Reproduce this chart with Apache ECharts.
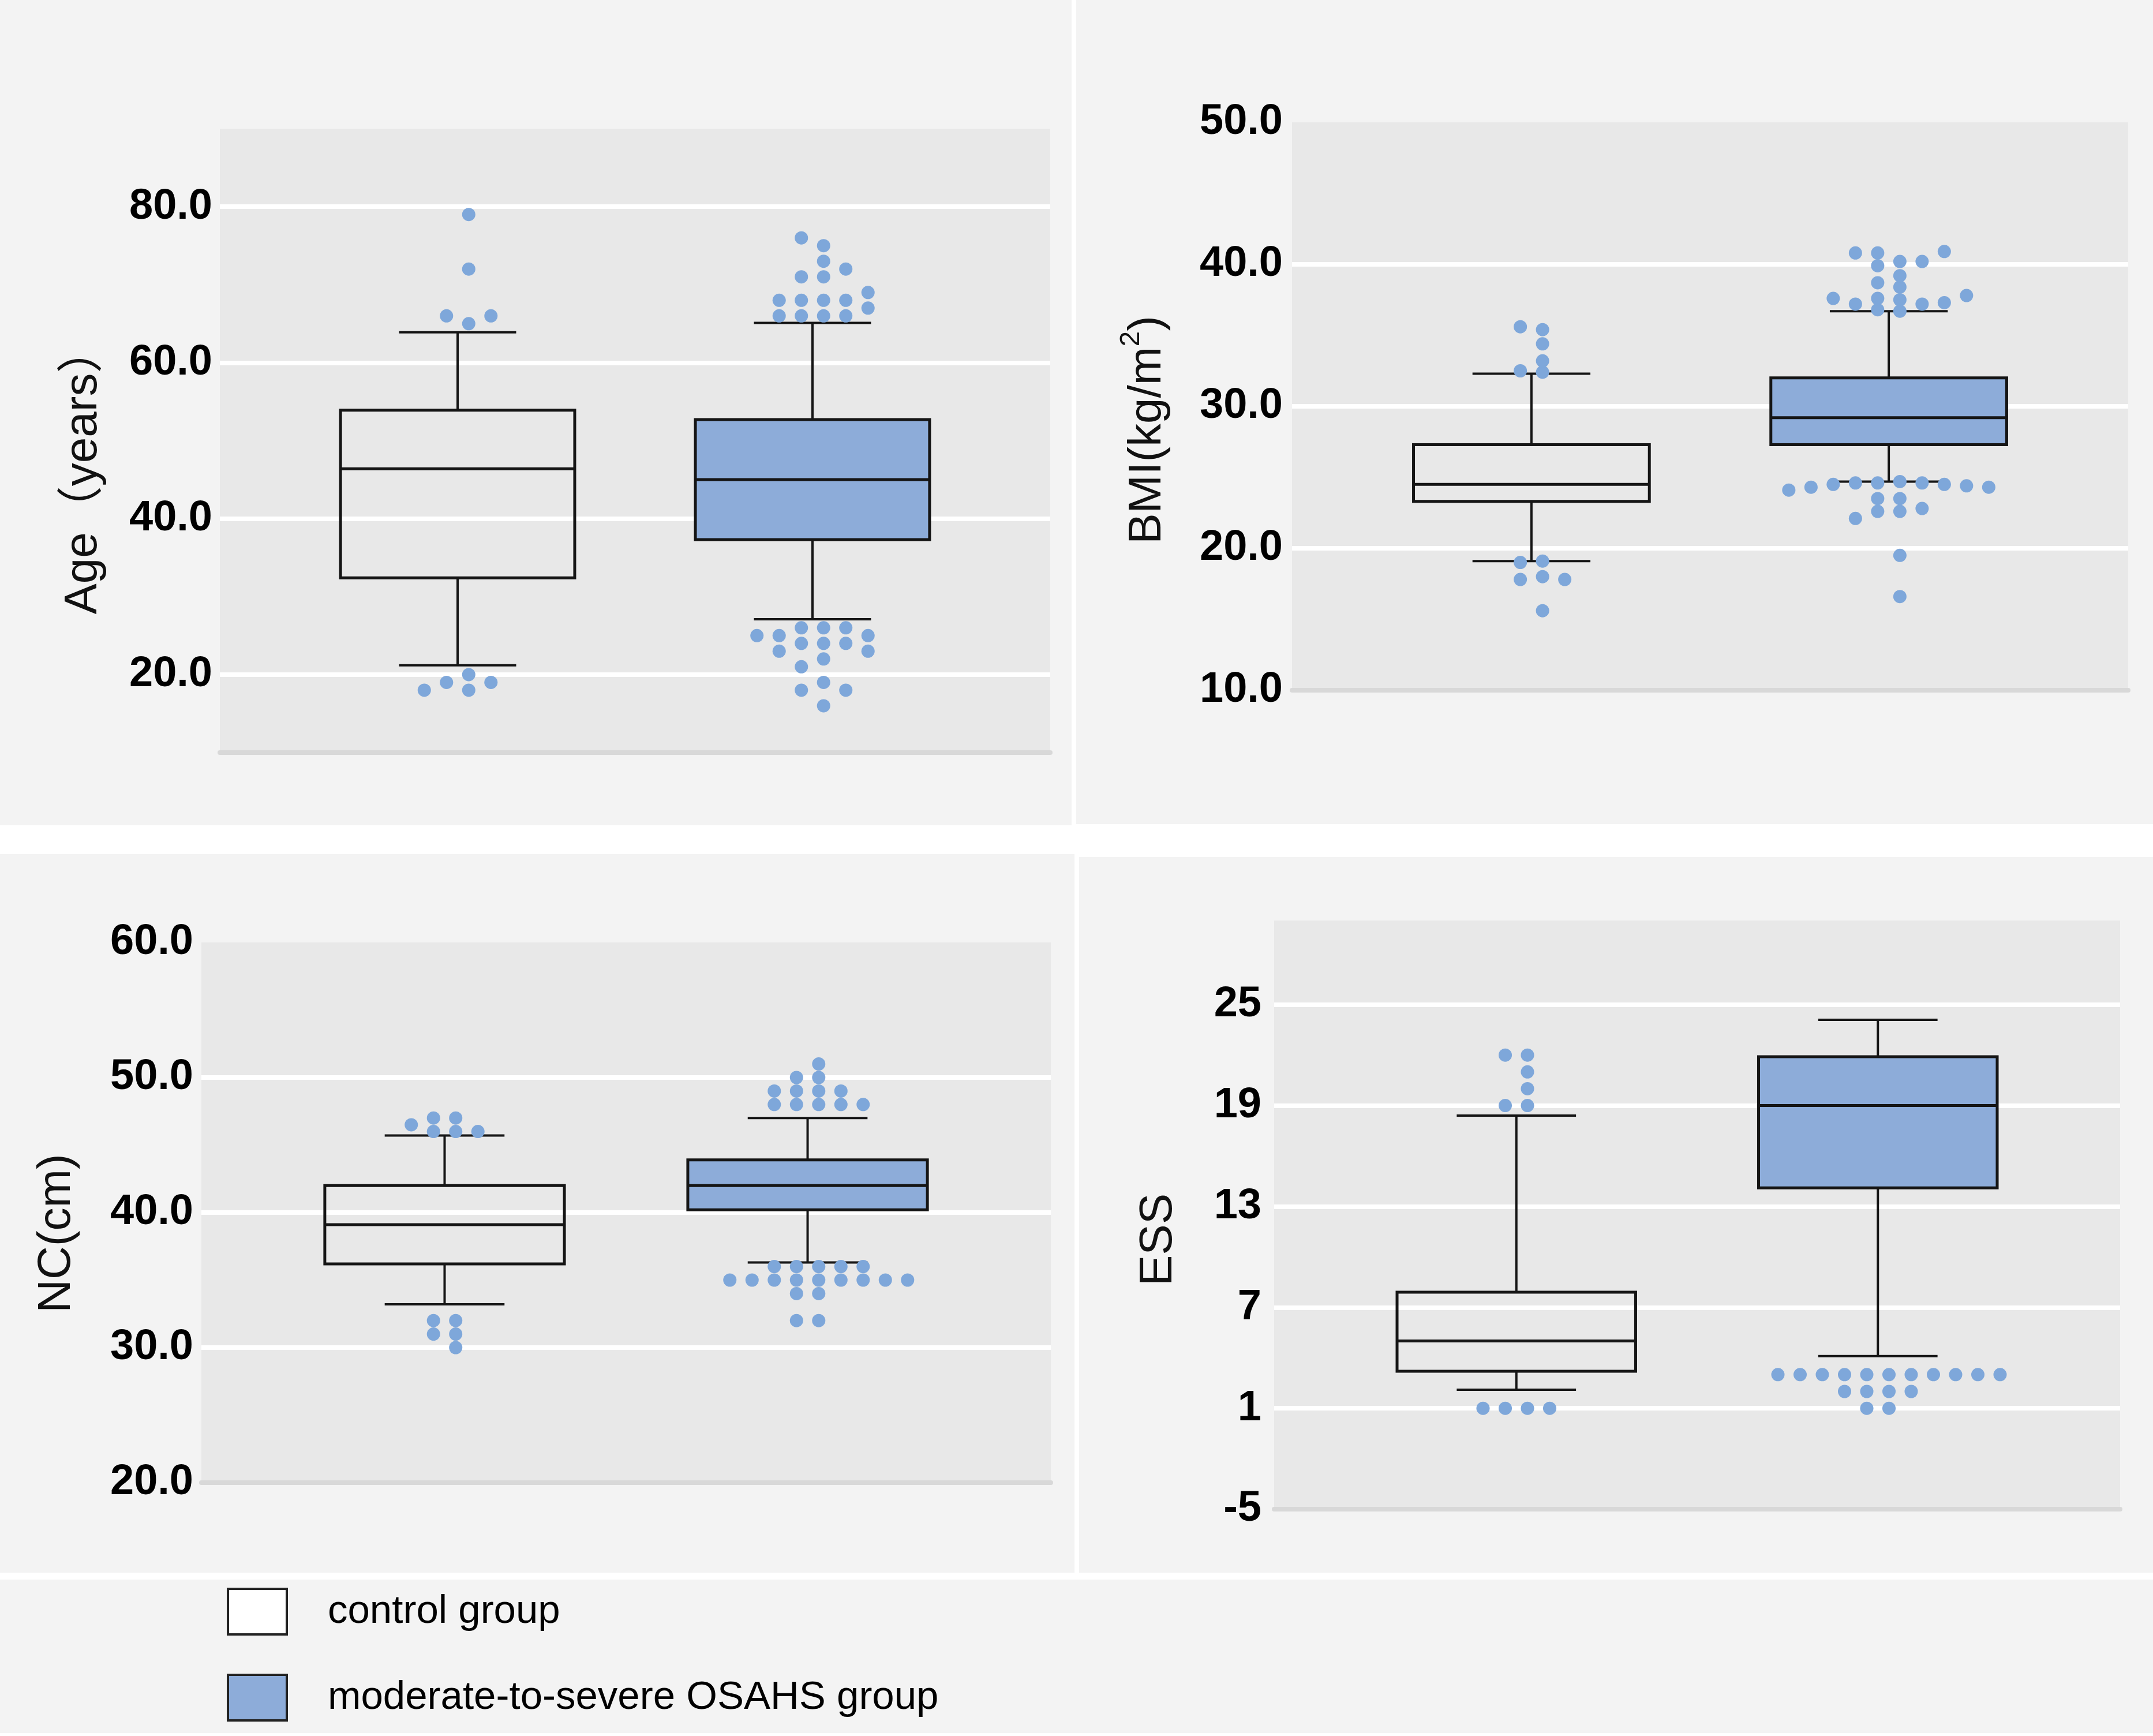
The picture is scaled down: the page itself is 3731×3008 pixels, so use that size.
<!DOCTYPE html>
<html><head><meta charset="utf-8">
<script src="https://cdn.jsdelivr.net/npm/echarts@6/dist/echarts.min.js"></script>
<style>html,body{margin:0;padding:0;background:#fff}#c{width:3731px;height:3008px}</style>
</head><body><div id="c"></div>
<script>
// ---------------- data ----------------
const groupNames = ['control group', 'moderate-to-severe OSAHS group'];
const axisTitles = ['Age（years）', '{n|BMI(kg/m}{s|2}{n|)}', 'NC(cm)', 'ESS'];

// box statistics: [lower whisker, Q1, median, Q3, upper whisker]
const ageControlBox = [21.2, 32.4, 46.4, 53.9, 63.9];
const ageOsahsBox   = [27.1, 37.3, 45.0, 52.7, 65.1];
const bmiControlBox = [19.1, 23.3, 24.5, 27.3, 32.3];
const bmiOsahsBox   = [24.7, 27.3, 29.2, 32.0, 36.7];
const ncControlBox  = [33.2, 36.2, 39.1, 42.0, 45.7];
const ncOsahsBox    = [36.3, 40.2, 42.0, 43.9, 47.0];
const essControlBox = [2.1, 3.2, 5.0, 7.9, 18.4];
const essOsahsBox   = [4.1, 14.1, 19.0, 21.9, 24.1];

// outliers
const ageControlOutliers = [65, 66, 66, 72, 79, 20, 19, 19, 18, 18];
const ageOsahsOutliers = [66, 66, 66, 66, 67, 68, 68, 68, 68, 69, 71, 71, 72, 73, 75, 76,
  26, 26, 26, 25, 25, 25, 24, 24, 24, 23, 23, 22, 21, 19, 18, 18, 16];
const bmiControlOutliers = [32.4, 32.5, 33.2, 34.4, 35.4, 35.6, 19.0, 19.1, 18.0, 17.8, 17.8, 15.6];
const bmiOsahsOutliers = [40.8, 40.8, 40.9, 39.9, 40.2, 40.2, 39.2, 38.4, 38.7, 37.6, 37.6, 37.8, 37.5,
  37.2, 37.2, 37.3, 36.7, 36.8,
  24.7, 24.4, 24.6, 24.3, 24.5, 24.5, 24.6, 24.6, 24.1, 24.3, 23.5, 23.5, 22.8, 22.6, 22.6, 22.1, 19.5, 16.6];
const ncControlOutliers = [46, 46, 46.5, 46, 47, 47, 32, 32, 31, 31, 30];
const ncOsahsOutliers = [48, 48, 48, 48, 48, 49, 49, 49, 49, 50, 50, 51,
  36, 36, 36, 36, 36, 35, 35, 35, 35, 35, 35, 35, 35, 35, 34, 34, 32, 32];
const essControlOutliers = [19, 19, 20, 21, 22, 22, 1, 1, 1, 1];
const essOsahsOutliers = [3, 3, 3, 3, 3, 3, 3, 3, 3, 3, 3, 2, 2, 2, 2, 1, 1];

// axis ranges and tick labels
const ageRange = [10, 90], ageTicks = [20, 40, 60, 80];
const bmiRange = [10, 50], bmiTicks = [10, 20, 30, 40, 50];
const ncRange  = [20, 60], ncTicks  = [20, 30, 40, 50, 60];
const essRange = [-5, 30], essTicks = [-5, 1, 7, 13, 19, 25];

// ---------------- layout / style ----------------
const panels = [
  {box: [ageControlBox, ageOsahsBox], out: [ageControlOutliers, ageOsahsOutliers], range: ageRange, ticks: ageTicks, dec: 1,
   grid: {left: 381, top: 223, width: 1439, height: 1081}, nameGap: 196, namePad: 104, labelMargin: 13},
  {box: [bmiControlBox, bmiOsahsBox], out: [bmiControlOutliers, bmiOsahsOutliers], range: bmiRange, ticks: bmiTicks, dec: 1,
   grid: {left: 2239, top: 212, width: 1449, height: 984}, nameGap: 210, namePad: 82, labelMargin: 16},
  {box: [ncControlBox, ncOsahsBox], out: [ncControlOutliers, ncOsahsOutliers], range: ncRange, ticks: ncTicks, dec: 1,
   grid: {left: 349, top: 1633, width: 1472, height: 936}, nameGap: 210, namePad: 72, labelMargin: 14},
  {box: [essControlBox, essOsahsBox], out: [essControlOutliers, essOsahsOutliers], range: essRange, ticks: essTicks, dec: 0,
   grid: {left: 2208, top: 1595, width: 1466, height: 1020}, nameGap: 160, namePad: 86, labelMargin: 22}
];
const X_RANGE = [0.33, 2.67];
const BOX_W = 0.66;
const DOT_PX = 23, DOT_STEP_PX = 38.5;
const BOX_FILL = ['rgba(0,0,0,0)', '#8dacd9'];
const DOT_COLOR = '#7ea7da';
const LINE_COLOR = '#151515';
const TITLE_FONT = 80;

function boxRenderer(fill) {
  return function (params, api) {
    const x = api.value(0);
    const lo = api.coord([x, api.value(1)]);
    const q1 = api.coord([x, api.value(2)]);
    const md = api.coord([x, api.value(3)]);
    const q3 = api.coord([x, api.value(4)]);
    const hi = api.coord([x, api.value(5)]);
    const w = api.size([BOX_W, 0])[0];
    const cx = md[0];
    const wl = {stroke: LINE_COLOR, lineWidth: 4};
    return {type: 'group', children: [
      {type: 'line', shape: {x1: cx, y1: hi[1], x2: cx, y2: q3[1]}, style: wl},
      {type: 'line', shape: {x1: cx, y1: q1[1], x2: cx, y2: lo[1]}, style: wl},
      {type: 'line', shape: {x1: cx - w / 4, y1: hi[1], x2: cx + w / 4, y2: hi[1]}, style: wl},
      {type: 'line', shape: {x1: cx - w / 4, y1: lo[1], x2: cx + w / 4, y2: lo[1]}, style: wl},
      {type: 'rect', shape: {x: cx - w / 2, y: q3[1], width: w, height: q1[1] - q3[1]},
       style: {fill: fill, stroke: LINE_COLOR, lineWidth: 5}},
      {type: 'line', shape: {x1: cx - w / 2, y1: md[1], x2: cx + w / 2, y2: md[1]}, style: {stroke: LINE_COLOR, lineWidth: 5}}
    ]};
  };
}

// dot-plot (beeswarm) arrangement of outliers around the box centre
function swarm(center, values, median, thresh, step) {
  const upper = values.filter(v => v > median).sort((a, b) => a - b);
  const lower = values.filter(v => v <= median).sort((a, b) => b - a);
  const out = [];
  [upper, lower].forEach(list => {
    const placed = [];
    list.forEach(v => {
      for (let k = 0; k < 40; k++) {
        const col = (k % 2 === 0 ? 1 : -1) * (Math.floor(k / 2) + 0.5);
        if (!placed.some(p => p.col === col && Math.abs(p.v - v) < thresh)) {
          placed.push({col: col, v: v});
          out.push([center + col * step, v]);
          break;
        }
      }
    });
  });
  return out;
}

const grids = [], xAxes = [], yAxes = [], series = [];
panels.forEach((p, i) => {
  grids.push(Object.assign({show: true, backgroundColor: '#e8e8e8', borderWidth: 0}, p.grid));
  xAxes.push({gridIndex: i, type: 'value', min: X_RANGE[0], max: X_RANGE[1],
    axisLabel: {show: false}, axisTick: {show: false}, splitLine: {show: false},
    axisLine: {show: true, onZero: false, lineStyle: {color: '#d8d8d8', width: 8}}});
  const inner = p.ticks.filter(v => v > p.range[0] && v < p.range[1]);
  const nameStyle = {fontSize: TITLE_FONT, color: '#111', fontFamily: "'Liberation Sans', 'Noto Sans CJK SC', sans-serif",
    padding: [0, p.namePad, 0, 0]};
  if (i === 1) {
    nameStyle.rich = {
      n: {fontSize: TITLE_FONT, color: '#111', fontFamily: "'Liberation Sans', sans-serif", verticalAlign: 'bottom', lineHeight: 92},
      s: {fontSize: 48, color: '#111', fontFamily: "'Liberation Sans', sans-serif", verticalAlign: 'top', lineHeight: 52}
    };
  }
  yAxes.push({gridIndex: i, type: 'value', min: p.range[0], max: p.range[1],
    name: axisTitles[i], nameLocation: 'middle', nameGap: p.nameGap, nameRotate: 90, nameTextStyle: nameStyle,
    axisLine: {show: false},
    axisTick: {show: false, customValues: inner},
    axisLabel: {customValues: p.ticks, margin: p.labelMargin, fontSize: 74, fontWeight: 'bold', color: '#000',
      fontFamily: "'Liberation Sans', Arial, sans-serif",
      formatter: v => Number(v).toFixed(p.dec)},
    splitLine: {show: true, lineStyle: {color: '#ffffff', width: 8}}});
  const pxPerY = p.grid.height / (p.range[1] - p.range[0]);
  const pxPerX = p.grid.width / (X_RANGE[1] - X_RANGE[0]);
  const thresh = 19 / pxPerY;
  const step = DOT_STEP_PX / pxPerX;
  [0, 1].forEach(g => {
    series.push({name: groupNames[g], type: 'custom', xAxisIndex: i, yAxisIndex: i, z: 2, silent: true,
      encode: {x: 0, y: [1, 2, 3, 4, 5]},
      data: [[g + 1].concat(p.box[g])], renderItem: boxRenderer(BOX_FILL[g])});
    series.push({name: groupNames[g], type: 'scatter', xAxisIndex: i, yAxisIndex: i, z: 3, silent: true,
      symbolSize: DOT_PX, itemStyle: {color: DOT_COLOR, opacity: 1},
      data: swarm(g + 1, p.out[g], p.box[g][2], thresh, step)});
  });
});

const bg = (x, y, w, h) => ({type: 'rect', z: -10, silent: true, shape: {x: x, y: y, width: w, height: h}, style: {fill: '#f3f3f3'}});

const chart = echarts.init(document.getElementById('c'), null, {renderer: 'canvas'});
chart.setOption({
  animation: false,
  backgroundColor: '#ffffff',
  graphic: [bg(0, 0, 1857, 1430), bg(1865, 0, 1866, 1428), bg(0, 1480, 1862, 1245), bg(1870, 1485, 1861, 1240), bg(0, 2737, 3731, 266)],
  grid: grids, xAxis: xAxes, yAxis: yAxes, series: series,
  legend: {orient: 'vertical', left: 393, top: 2751, itemWidth: 102, itemHeight: 79, itemGap: 66, padding: 0,
    selectedMode: false,
    textStyle: {fontSize: 69, color: '#000', fontFamily: "'Liberation Sans', sans-serif", padding: [0, 0, 0, 66]},
    data: [
      {name: groupNames[0], icon: 'rect', itemStyle: {color: '#ffffff', borderColor: '#222', borderWidth: 4}},
      {name: groupNames[1], icon: 'rect', itemStyle: {color: '#8dacd9', borderColor: '#222', borderWidth: 4}}
    ]}
});
</script></body></html>
